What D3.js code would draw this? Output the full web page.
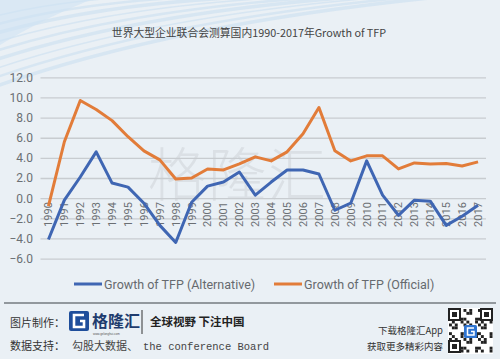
<html>
  <head>
    <meta charset="utf-8">
    <script src="https://d3js.org/d3.v7.min.js"></script>
    <style>
      body { margin: 0; background: #eaf0f5; }
      svg { display: block; }
    </style>
  </head>
  <body>
    <svg id="vis"></svg>
  </body>
  <script>
    // Chart data
    var years = ["1990","1991","1992","1993","1994","1995","1996","1997","1998","1999",
                 "2000","2001","2002","2003","2004","2005","2006","2007","2008","2009",
                 "2010","2011","2012","2013","2014","2015","2016","2017"]
    var tfpAlternative = [-4.1, -0.2, 2.1, 4.6, 1.5, 1.1, -0.5, -2.7, -4.4, -0.4,
                          1.2, 1.6, 2.6, 0.3, 1.6, 2.8, 2.8, 2.4, -1.2, -0.5,
                          3.7, 0.3, -1.7, -0.2, -0.3, -2.7, -1.8, -0.7]
    var tfpOfficial = [-0.8, 5.6, 9.7, 8.8, 7.7, 6.1, 4.7, 3.8, 1.9, 2.0,
                       2.9, 2.8, 3.4, 4.1, 3.7, 4.6, 6.4, 9.0, 4.7, 3.7,
                       4.2, 4.2, 2.9, 3.5, 3.4, 3.45, 3.2, 3.6]
    var yTicks = [-6, -4, -2, 0, 2, 4, 6, 8, 10, 12]
    var seriesNames = ["Growth of TFP (Alternative)", "Growth of TFP (Official)"]
    var seriesColors = ["#3f66b3", "#e27c39"]

    var width = 500, height = 359
    var svg = d3.select('#vis').attr('width', width).attr('height', height)

    // Background
    svg.append('rect').attr('width', width).attr('height', height).attr('fill', '#eaf0f5')

    // faint streaks in the top-left corner
    var streaks = svg.append('g').attr('fill', 'none').attr('stroke', '#cfe1f1')
    for (var i = 0; i < 9; i++) {
      streaks.append('path')
        .attr('d', 'M' + (-20) + ',' + (20 + i * 9) + ' Q' + (90 + i * 10) + ',' + (-10 + i * 4) + ' ' + (260 + i * 25) + ',' + (-5))
        .attr('stroke-width', 1.5 + (i % 3))
        .attr('opacity', 0.7)
    }
    svg.append('path')
      .attr('d', 'M0,0 L90,0 Q40,20 0,45 Z')
      .attr('fill', '#cfe2f3').attr('opacity', 0.6)

    // Title
    svg.append('text')
      .attr('x', 249).attr('y', 37)
      .attr('text-anchor', 'middle')
      .attr('font-family', '"Noto Sans CJK SC", sans-serif')
      .attr('font-size', 10.8)
      .attr('fill', '#444')
      .text('世界大型企业联合会测算国内1990-2017年Growth of TFP')

    // Scales
    var x = d3.scaleBand().domain(years).range([40.5, 486])
    var y = d3.scaleLinear().domain([-6, 12]).range([258.6, 77.3])

    // Watermark
    svg.append('text')
      .attr('x', 238).attr('y', 196)
      .attr('text-anchor', 'middle')
      .attr('font-family', '"Noto Sans CJK SC", sans-serif')
      .attr('font-size', 58)
      .attr('font-weight', 300)
      .attr('fill', '#cfd4d9')
      .attr('opacity', 0.55)
      .attr('letter-spacing', 2)
      .text('格隆汇')

    // Grid lines
    svg.append('g')
      .call(d3.axisLeft(y).tickValues(yTicks).tickSize(-(486 - 40.5)).tickFormat(''))
      .attr('transform', 'translate(40.5,0)')
      .call(function(g) {
        g.select('.domain').remove()
        g.selectAll('line').attr('stroke', '#c8ccd0').attr('stroke-width', 1.3)
      })

    // Y axis labels
    svg.append('g')
      .attr('transform', 'translate(33,0)')
      .call(d3.axisLeft(y).tickValues(yTicks).tickSize(0).tickPadding(0).tickFormat(d3.format('.1f')))
      .call(function(g) {
        g.select('.domain').remove()
        g.selectAll('text')
          .attr('font-family', 'Roboto, "Noto Sans", sans-serif')
          .attr('font-size', 12)
          .attr('fill', '#6b6f73')
      })

    // X axis labels (rotated, just under the zero line)
    svg.append('g')
      .attr('transform', 'translate(0,' + y(0) + ')')
      .call(d3.axisBottom(x).tickSize(0).tickPadding(0))
      .call(function(g) {
        g.select('.domain').remove()
        g.selectAll('text')
          .attr('font-family', 'Roboto, "Noto Sans", sans-serif')
          .attr('font-size', 11)
          .attr('fill', '#6b6f73')
          .attr('text-anchor', 'end')
          .attr('dy', '0.35em')
          .attr('transform', 'translate(0,4) rotate(-90)')
          .attr('x', 0).attr('y', 0)
      })

    // Lines
    var line = d3.line()
      .x(function(d, i) { return x(years[i]) + x.bandwidth() / 2 })
      .y(function(d) { return y(d) })

    ;[tfpAlternative, tfpOfficial].forEach(function(s, k) {
      svg.append('path')
        .datum(s)
        .attr('fill', 'none')
        .attr('stroke', seriesColors[k])
        .attr('stroke-width', 3)
        .attr('stroke-linejoin', 'round')
        .attr('d', line)
    })

    // Legend
    var legendX = [74, 274]
    seriesNames.forEach(function(name, k) {
      var g = svg.append('g').attr('transform', 'translate(' + legendX[k] + ',284)')
      g.append('line').attr('x1', 0).attr('x2', 28).attr('y1', 0).attr('y2', 0)
        .attr('stroke', seriesColors[k]).attr('stroke-width', 3)
      g.append('text').attr('x', 30).attr('y', 4.5)
        .attr('font-family', 'Roboto, "Noto Sans", sans-serif')
        .attr('font-size', 12.5)
        .attr('fill', '#666a6e')
        .text(name)
    })

    // Footer
    var footer = svg.append('g')
    footer.append('line').attr('x1', 4).attr('x2', 496).attr('y1', 303).attr('y2', 303)
      .attr('stroke', '#3b4046').attr('stroke-width', 1.2)
    footer.append('text').attr('x', 10).attr('y', 327)
      .attr('font-family', '"Noto Sans CJK SC", sans-serif').attr('font-size', 11)
      .attr('fill', '#333').text('图片制作：')
    // logo
    footer.append('rect').attr('x', 69).attr('y', 311).attr('width', 20).attr('height', 20)
      .attr('rx', 2).attr('fill', '#1f4e9b')
    footer.append('path').attr('d', 'M84,315 L74,315 L74,327 L84,327 L84,321 L80,321')
      .attr('fill', 'none').attr('stroke', '#fff').attr('stroke-width', 2.6)
    footer.append('text').attr('x', 92).attr('y', 327)
      .attr('font-family', '"Noto Sans CJK SC", sans-serif').attr('font-size', 16).attr('font-weight', 'bold')
      .attr('fill', '#1f3c6e').text('格隆汇')
    footer.append('text').attr('x', 93).attr('y', 335)
      .attr('font-family', 'sans-serif').attr('font-size', 3)
      .attr('fill', '#555').text('www.gelonghui.com')
    footer.append('line').attr('x1', 142).attr('x2', 142).attr('y1', 310).attr('y2', 334)
      .attr('stroke', '#333').attr('stroke-width', 1)
    footer.append('text').attr('x', 150).attr('y', 326)
      .attr('font-family', '"Noto Sans CJK SC", sans-serif').attr('font-size', 11.5).attr('font-weight', 'bold')
      .attr('fill', '#222').text('全球视野 下注中国')
    footer.append('text').attr('x', 10).attr('y', 350)
      .attr('font-family', '"Noto Sans CJK SC", sans-serif').attr('font-size', 11)
      .attr('fill', '#333').text('数据支持：')
    footer.append('text').attr('x', 72).attr('y', 350)
      .attr('font-family', '"Noto Sans CJK SC", sans-serif').attr('font-size', 11)
      .attr('fill', '#444').text('勾股大数据、')
    footer.append('text').attr('x', 143).attr('y', 350)
      .attr('font-family', '"Liberation Mono", "DejaVu Sans Mono", monospace').attr('font-size', 10.5)
      .attr('fill', '#444').text('the conference Board')
    footer.append('text').attr('x', 443).attr('y', 334).attr('text-anchor', 'end')
      .attr('font-family', '"Noto Sans CJK SC", sans-serif').attr('font-size', 9.5)
      .attr('fill', '#333').text('下载格隆汇App')
    footer.append('text').attr('x', 443).attr('y', 350).attr('text-anchor', 'end')
      .attr('font-family', '"Noto Sans CJK SC", sans-serif').attr('font-size', 9.5)
      .attr('fill', '#333').text('获取更多精彩内容')

    // QR code style block
    var qr = footer.append('g').attr('transform', 'translate(448,308)')
    qr.append('rect').attr('width', 45).attr('height', 46).attr('fill', '#fff')
    var cells = []
    for (var r = 0; r < 15; r++) for (var c = 0; c < 15; c++) {
      if (((r * 7 + c * 13 + r * c) % 5) < 2) cells.push([r, c])
    }
    qr.selectAll('rect.c').data(cells).enter().append('rect').attr('class', 'c')
      .attr('x', function(d) { return 1 + d[1] * 2.9 })
      .attr('y', function(d) { return 1 + d[0] * 2.9 })
      .attr('width', 2.9).attr('height', 2.9).attr('fill', '#222')
    ;[[1, 1], [1, 33], [33, 1]].forEach(function(p) {
      qr.append('rect').attr('x', p[0]).attr('y', p[1]).attr('width', 11).attr('height', 11)
        .attr('fill', '#fff').attr('stroke', '#222').attr('stroke-width', 2)
      qr.append('rect').attr('x', p[0] + 3).attr('y', p[1] + 3).attr('width', 5).attr('height', 5).attr('fill', '#222')
    })
    qr.append('rect').attr('x', 16).attr('y', 17).attr('width', 13).attr('height', 13).attr('rx', 1.5).attr('fill', '#2f74d0')
    qr.append('path').attr('d', 'M26,20 L19.5,20 L19.5,27 L26,27 L26,23.5 L23,23.5')
      .attr('fill', 'none').attr('stroke', '#fff').attr('stroke-width', 1.5)
  </script>
</html>
